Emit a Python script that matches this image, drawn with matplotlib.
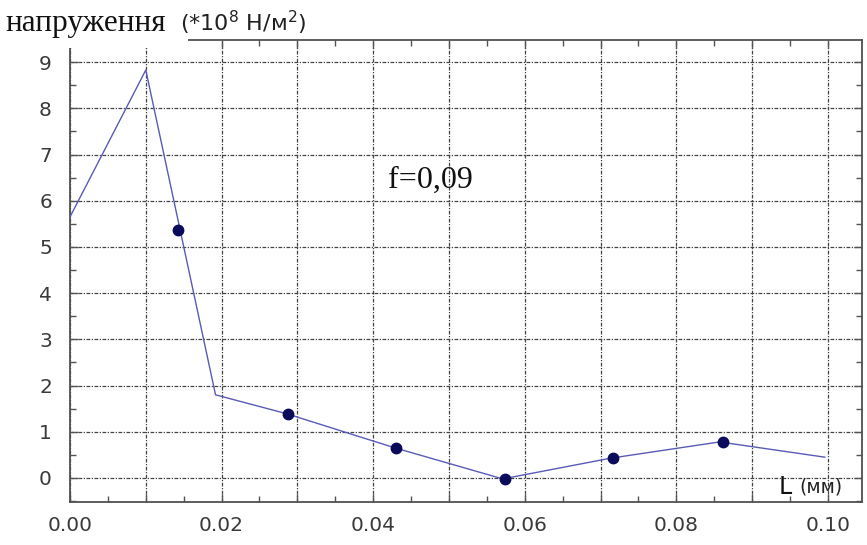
import matplotlib
matplotlib.use("Agg")
import matplotlib.pyplot as plt
from matplotlib.patches import Rectangle
from matplotlib.ticker import MultipleLocator, FuncFormatter

# polyline of the curve
line_x = [0.0, 0.01, 0.0192, 0.0286, 0.0429, 0.0571, 0.0714, 0.0857, 0.0996]
line_y = [5.65, 8.83, 1.80, 1.39, 0.65, -0.02, 0.43, 0.78, 0.45]

# measured points
pts_x = [0.0143, 0.0288, 0.0430, 0.0574, 0.0716, 0.0861]
pts_y = [5.37, 1.39, 0.65, -0.02, 0.43, 0.78]

x_ticks = [0.00, 0.02, 0.04, 0.06, 0.08, 0.10]

fig = plt.figure(figsize=(8.67, 5.45), dpi=100)
ax = fig.add_axes([70 / 867, 1 - 502 / 545, 792 / 867, 462 / 545])

ax.plot(line_x, line_y, color="#5a5ab8", lw=1.0, zorder=3)
ax.plot(pts_x, pts_y, "o", color="#0b0b5c", ms=7.5, zorder=4)

ax.set_xlim(0.0, 0.1045)
ax.set_ylim(-0.52, 9.48)

ax.xaxis.set_major_locator(MultipleLocator(0.01))
ax.xaxis.set_minor_locator(MultipleLocator(0.005))
ax.xaxis.set_major_formatter(FuncFormatter(
    lambda v, p: f"{v:.2f}" if any(abs(v - t) < 1e-6 for t in x_ticks) else ""))
ax.yaxis.set_major_locator(MultipleLocator(1))
ax.yaxis.set_minor_locator(MultipleLocator(0.5))
ax.yaxis.set_major_formatter(FuncFormatter(lambda v, p: f"{v:.0f}"))

ax.tick_params(which="both", direction="in", top=True, right=True,
               colors="#555555", labelcolor="#3a3a3a", labelsize=14.5)
ax.tick_params(which="major", length=6, width=1)
ax.tick_params(which="minor", length=4, width=1)
ax.tick_params(axis="x", pad=10)
ax.tick_params(axis="y", pad=13)

ax.grid(True, which="major", color="#444444", lw=0.9, linestyle=(0, (3, 1.2, 1, 1.2)))
for s in ax.spines.values():
    s.set_color("#505050")
    s.set_linewidth(1.3)

ax.text(0.0420, 6.45, "f=0,09", family="Liberation Serif", fontsize=23,
        ha="left", va="center", color="#111111")
ax.text(0.0935, -0.2, "L", fontsize=17, ha="left", va="center", color="#111111")
ax.text(0.0962, -0.2, "(мм)", fontsize=13.5, ha="left", va="center", color="#222222")

# the y label hides the left part of the top frame
fig.patches.append(Rectangle((68 / 867, 1 - 48 / 545), 120 / 867, 14 / 545,
                             transform=fig.transFigure, facecolor="white",
                             edgecolor="none", zorder=5))
fig.text(5 / 867, 1 - 31 / 545, "напруження", family="Liberation Serif", fontsize=22.5,
         ha="left", va="baseline", color="#111111", zorder=6)
fig.text(180 / 867, 1 - 31 / 545, "(*10$^8$ Н/м$^2$)", fontsize=16,
         ha="left", va="baseline", color="#222222", zorder=6)

fig.savefig("out.png", dpi=100)
plt.close(fig)
